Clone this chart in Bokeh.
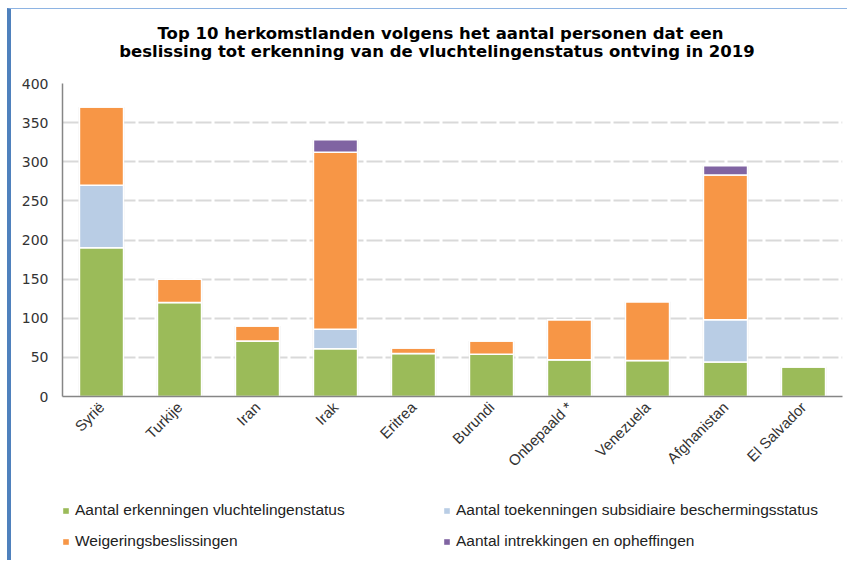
from bokeh.plotting import figure
from bokeh.layouts import column
from bokeh.models import Range1d, Legend, LegendItem, Label, FixedTicker
from bokeh.embed import file_html
from bokeh.resources import INLINE
from math import pi

countries = ["Syrië", "Turkije", "Iran", "Irak", "Eritrea", "Burundi",
             "Onbepaald *", "Venezuela", "Afghanistan", "El Salvador"]
erkenning = [190, 120, 71, 61, 55, 54, 47, 46, 44, 38]
subsidiair = [80, 0, 0, 25, 0, 0, 0, 0, 54, 0]
weigering = [100, 30, 19, 226, 7, 17, 51, 75, 185, 0]
intrekking = [0, 0, 0, 16, 0, 0, 0, 0, 12, 0]
y_ticks = [0, 50, 100, 150, 200, 250, 300, 350, 400]

series_names = ["Aantal erkenningen vluchtelingenstatus",
                "Aantal toekenningen subsidiaire beschermingsstatus",
                "Weigeringsbeslissingen",
                "Aantal intrekkingen en opheffingen"]
colors = ["#9BBB59", "#B9CDE5", "#F79646", "#8064A2"]
title_lines = ["Top 10 herkomstlanden volgens het aantal personen dat een",
               "beslissing tot erkenning van de vluchtelingenstatus ontving in 2019"]

W = 836
FRAME_W = 780  # frames of the strips are aligned with the chart frame by the column layout


def blank(height):
    f = figure(width=W, height=height, x_range=Range1d(0, FRAME_W), y_range=Range1d(0, height),
               output_backend="svg", toolbar_location=None,
               x_axis_location=None, y_axis_location=None,
               min_border=0, min_border_left=0, min_border_right=0,
               min_border_top=0, min_border_bottom=0)
    f.grid.visible = False
    f.outline_line_color = None
    f.title.text = ""
    return f


# title strip
t = blank(66)
for txt, (tx, ty) in zip(title_lines, [(378, 42), (374.5, 24)]):
    t.add_layout(Label(x=tx, y=ty, text=txt, text_align="center", text_baseline="middle",
                       text_font="DejaVu Sans", text_font_style="bold",
                       text_font_size="16.5px", text_color="#000000"))

# main chart
data = {"c": countries, "s0": erkenning, "s1": subsidiair, "s2": weigering, "s3": intrekking}
p = figure(x_range=countries, y_range=Range1d(0, 400), width=W, height=405,
           output_backend="svg", toolbar_location=None,
           min_border_left=51, min_border_right=5, min_border_top=8, min_border_bottom=84)
p.title.text = ""
p.outline_line_color = None
p.background_fill_color = "white"
p.border_fill_color = "white"

tot = [a + b + c + d for a, b, c, d in zip(erkenning, subsidiair, weigering, intrekking)]
p.vbar(x=countries, top=tot, width=0.59, fill_color="#000000", fill_alpha=0.07, line_color=None)

rs = p.vbar_stack(["s0", "s1", "s2", "s3"], x="c", width=0.565, source=data,
                  fill_color=colors, line_color="white", line_width=1.5)

p.xgrid.grid_line_color = None
p.ygrid.grid_line_color = "#D9D9D9"
p.ygrid.grid_line_width = 2
p.ygrid.grid_line_dash = "16 3"
p.yaxis.ticker = FixedTicker(ticks=y_ticks)

for ax in (p.xaxis, p.yaxis):
    ax.axis_line_color = "#868686"
    ax.axis_line_width = 1.5
    ax.major_tick_line_color = None
    ax.minor_tick_line_color = None
    ax.major_tick_out = 0
    ax.major_label_text_color = "#333333"

p.yaxis.major_label_text_font = "DejaVu Sans"
p.yaxis.major_label_text_font_size = "14px"
p.yaxis.major_label_standoff = 14
p.xaxis.major_label_text_font = "Liberation Sans"
p.xaxis.major_label_text_font_size = "15px"
p.xaxis.major_label_orientation = pi / 4
p.xaxis.major_label_standoff = 8

# legend strip
q = blank(80)
dummy = [q.vbar(x=[-100], top=[-100], width=0.5, fill_color=c, line_color=None) for c in colors]


def make_legend(idx, loc):
    lg = Legend(items=[LegendItem(label=series_names[i], renderers=[dummy[i]]) for i in idx],
                location=loc)
    lg.border_line_color = None
    lg.background_fill_alpha = 0
    lg.padding = 0
    lg.margin = 0
    lg.spacing = 11
    lg.glyph_width = 7
    lg.glyph_height = 7
    lg.label_height = 20
    lg.label_standoff = 6
    lg.label_text_font = "Liberation Sans"
    lg.label_text_font_size = "15.5px"
    lg.label_text_color = "#222222"
    return lg


q.add_layout(make_legend([0, 2], (0, 9)), "center")
q.add_layout(make_legend([1, 3], (381, 9)), "center")

page = column(t, p, q, spacing=0,
              styles={"margin-left": "7px", "margin-top": "8px",
                      "border-left": "4px solid #4F81BD", "border-top": "1px solid #8EB4E3"})
open("out.html", "w").write(file_html(page, INLINE))
